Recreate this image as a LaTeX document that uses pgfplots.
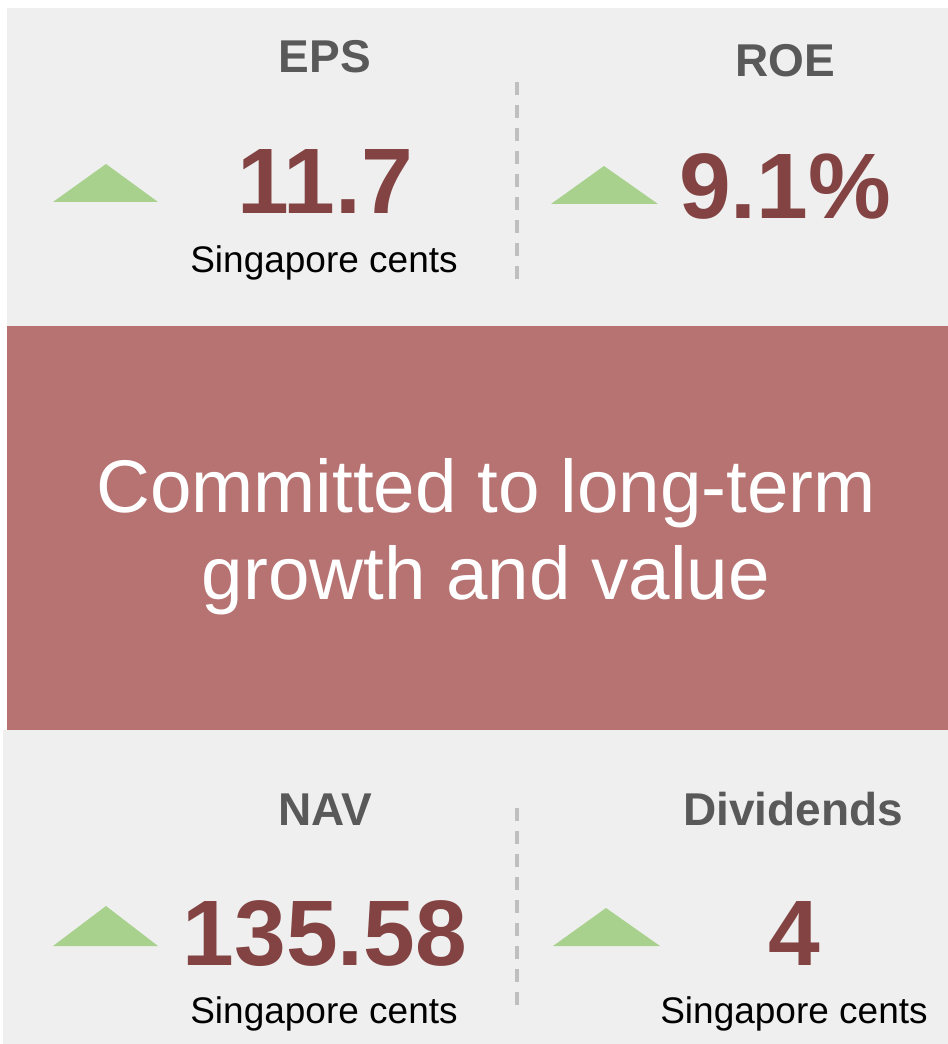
\documentclass[border=0pt]{standalone}
\usepackage{pgfplots}
\pgfplotsset{compat=1.18}
\usepackage{fontspec}
\setmainfont{Liberation Sans}
\definecolor{panel}{HTML}{EFEFEF}
\definecolor{band}{HTML}{B77272}
\definecolor{numred}{HTML}{834343}
\definecolor{head}{HTML}{595959}
\definecolor{up}{HTML}{A9D18E}
\definecolor{sep}{HTML}{BFBFBF}
\newcommand{\head}[1]{{\fontsize{46bp}{46bp}\selectfont\bfseries #1}}
\newcommand{\num}[1]{{\fontsize{93bp}{93bp}\selectfont\bfseries #1}}
\newcommand{\unit}{{\fontsize{37bp}{37bp}\selectfont Singapore cents}}
\begin{document}
\begin{tikzpicture}
\begin{axis}[
  width=948bp, height=1044bp, scale only axis,
  xmin=0, xmax=948, ymin=0, ymax=1044, y dir=reverse,
  hide axis, clip=false
]
% full canvas, keeps the white margin
\addplot[draw=none, fill=white] coordinates {(0,0) (948,0) (948,1044) (0,1044)} -- cycle;
% panels
\addplot[fill=panel, draw=none] coordinates {(7,8) (948,8) (948,326) (7,326)} -- cycle;
\addplot[fill=band, draw=none] coordinates {(7,326) (948,326) (948,730) (7,730)} -- cycle;
\addplot[fill=panel, draw=none] coordinates {(3,730) (948,730) (948,1044) (3,1044)} -- cycle;

% separators
\addplot[sep, line width=3.3bp, dash pattern=on 13bp off 10bp] coordinates {(517,82) (517,282)};
\addplot[sep, line width=3.3bp, dash pattern=on 13bp off 10bp] coordinates {(517,808) (517,1007)};

% up arrows
\addplot[fill=up, draw=none] coordinates {(53,202) (106,164) (158,202)} -- cycle;
\addplot[fill=up, draw=none] coordinates {(551,204) (604,166) (658,204)} -- cycle;
\addplot[fill=up, draw=none] coordinates {(53,946) (106,906) (158,946)} -- cycle;
\addplot[fill=up, draw=none] coordinates {(553,946) (606,908) (660,946)} -- cycle;

% headings
\node[anchor=base, text=head, inner sep=0] at (axis cs:325,73) {\head{EPS}};
\node[anchor=base, text=head, inner sep=0] at (axis cs:785,77) {\head{ROE}};
\node[anchor=base, text=head, inner sep=0] at (axis cs:325,825) {\head{NAV}};
\node[anchor=base, text=head, inner sep=0] at (axis cs:793,825) {\head{Dividends}};

% figures
\node[anchor=base, text=numred, inner sep=0] at (axis cs:325,213) {\num{11.7}};
\node[anchor=base, text=numred, inner sep=0] at (axis cs:785,218) {\num{9.1\%}};
\node[anchor=base, text=numred, inner sep=0] at (axis cs:325,965) {\num{135.58}};
\node[anchor=base, text=numred, inner sep=0] at (axis cs:794,965) {\num{4}};

% units
\node[anchor=base, inner sep=0] at (axis cs:324,272) {\unit};
\node[anchor=base, inner sep=0] at (axis cs:324,1023) {\unit};
\node[anchor=base, inner sep=0] at (axis cs:794,1023) {\unit};

% centre message
\node[anchor=base, text=white, inner sep=0] at (axis cs:486,512) {\fontsize{74.6bp}{74.6bp}\selectfont Committed to long-term};
\node[anchor=base, text=white, inner sep=0] at (axis cs:486,599) {\fontsize{74.6bp}{74.6bp}\selectfont growth and value};
\end{axis}
\end{tikzpicture}
\end{document}
